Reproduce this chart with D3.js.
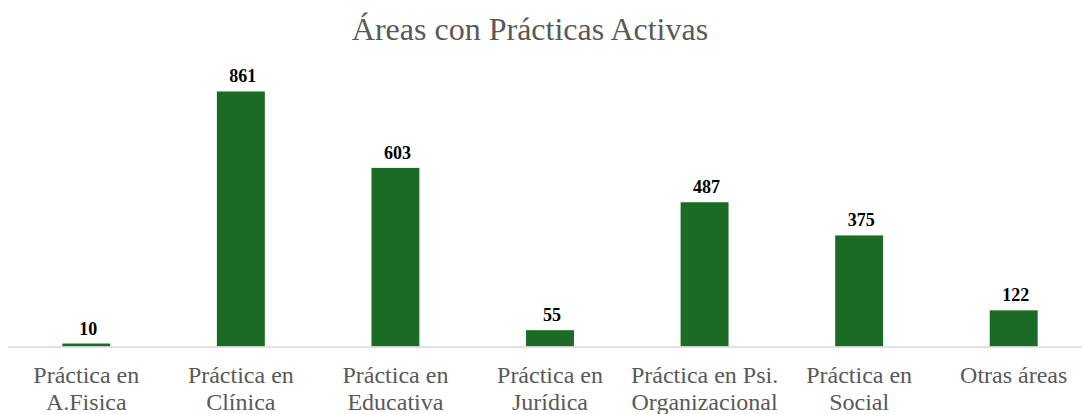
<!DOCTYPE html>
<html><head><meta charset="utf-8">
<script src="https://cdn.jsdelivr.net/npm/d3@7"></script>
<style>body{margin:0;background:#fff}svg{display:block}</style>
</head><body>
<svg id="c" width="1082" height="414"></svg>
<script>
const categories = [["Práctica en","A.Fisica"],["Práctica en","Clínica"],["Práctica en","Educativa"],["Práctica en","Jurídica"],["Práctica en Psi.","Organizacional"],["Práctica en","Social"],["Otras áreas"]];
const values = [10, 861, 603, 55, 487, 375, 122];
const title = "Áreas con Prácticas Activas";

const svg = d3.select("#c");
const W = 1082, H = 414;
const baseY = 346.5;
const keys = categories.map((c,i)=>i);
const x = d3.scaleBand().domain(keys).range([9, 1091]).paddingInner(0.69).paddingOuter(0.345);
const y = d3.scaleLinear().domain([0, 1000]).range([baseY, baseY - 296.2]);

svg.append("text").attr("x", 530).attr("y", 40).attr("text-anchor","middle")
  .attr("font-family","'Liberation Serif','Times New Roman',serif").attr("font-size",32)
  .attr("fill","#595959").text(title);

svg.selectAll("rect.bar").data(values).join("rect").attr("class","bar")
  .attr("x",(d,i)=>x(i)).attr("width",x.bandwidth())
  .attr("y",d=>y(d)).attr("height",d=>baseY - y(d))
  .attr("fill","#1b6b24");

svg.append("line").attr("x1",8).attr("x2",1091).attr("y1",baseY+0.5).attr("y2",baseY+0.5)
  .attr("stroke","#d9d9d9").attr("stroke-width",1.5);

svg.selectAll("text.val").data(values).join("text").attr("class","val")
  .attr("x",(d,i)=>x(i)+x.bandwidth()/2+2).attr("y",d=>y(d)-9)
  .attr("text-anchor","middle").attr("font-family","'Liberation Serif','Times New Roman',serif")
  .attr("font-weight","bold").attr("font-size",18).attr("fill","#000").text(d=>d);

const lab = svg.selectAll("text.cat").data(categories).join("text").attr("class","cat")
  .attr("text-anchor","middle").attr("font-family","'Liberation Serif','Times New Roman',serif")
  .attr("font-size",24).attr("fill","#595959");
lab.each(function(d,i){
  const t = d3.select(this);
  d.forEach((s,j)=>{
    t.append("tspan").attr("x", x(i)+x.bandwidth()/2).attr("y", 383 + j*26.5).text(s);
  });
});
</script>
</body></html>
